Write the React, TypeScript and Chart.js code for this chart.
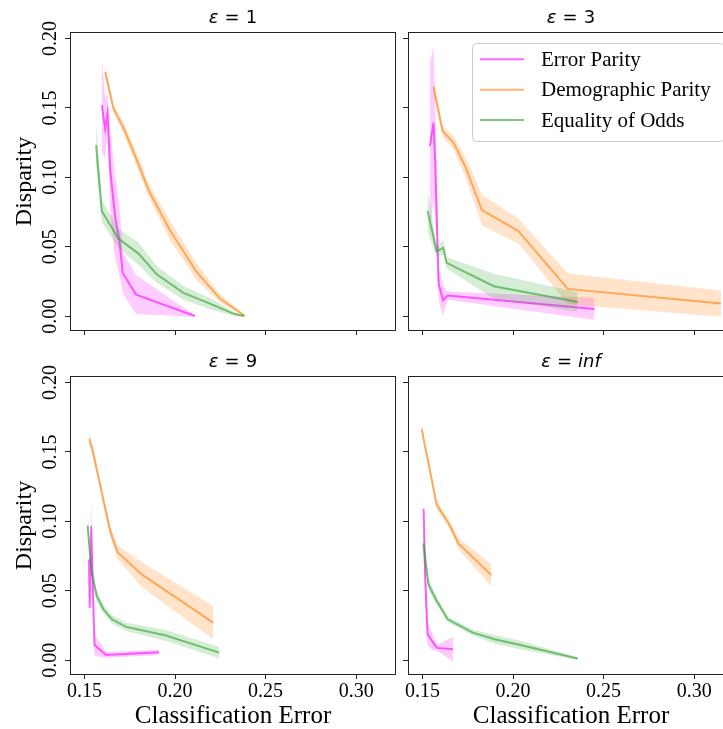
import React, { useEffect, useRef } from 'react';
import { Chart, registerables } from 'chart.js';

Chart.register(...registerables);

// ---------- shared axis data ----------
const X_MIN = 0.142;
const X_MAX = 0.322;
const Y_MIN = -0.0099;
const Y_MAX = 0.2039;
const TICK_STEP = 0.05;
const seriesNames = ['Error Parity', 'Demographic Parity', 'Equality of Odds'];
const panelEps = ['1', '3', '9', 'inf'];
const xAxisLabel = 'Classification Error';
const yAxisLabel = 'Disparity';

// ---------- ε = 1 ----------
const e1EpX = [0.1596, 0.1614, 0.1627, 0.1642, 0.1669, 0.1693, 0.1711, 0.1785, 0.211];
const e1EpY = [0.152, 0.135, 0.146, 0.1052, 0.0715, 0.0547, 0.0312, 0.0156, 0.0002];
const e1EpH = [0.034, 0.022, 0.014, 0.03, 0.03, 0.025, 0.015, 0.014, 0.0005];
const e1DpX = [0.1614, 0.166, 0.1721, 0.1789, 0.1858, 0.1972, 0.2119, 0.2248, 0.2386];
const e1DpY = [0.176, 0.1496, 0.134, 0.1124, 0.0896, 0.0619, 0.0319, 0.0127, 0.0002];
const e1DpH = [0.004, 0.003, 0.004, 0.005, 0.005, 0.007, 0.006, 0.003, 0.0005];
const e1EoX = [0.1564, 0.1596, 0.1687, 0.1798, 0.1899, 0.2046, 0.2193, 0.2322, 0.238];
const e1EoY = [0.1232, 0.0756, 0.0559, 0.0451, 0.0302, 0.0168, 0.0091, 0.0019, 0.0002];
const e1EoH = [0.015, 0.008, 0.007, 0.008, 0.006, 0.005, 0.004, 0.0015, 0.0005];

// ---------- ε = 3 ----------
const e3EpX = [0.1541, 0.1561, 0.157, 0.1589, 0.1613, 0.1639, 0.245];
const e3EpY = [0.1225, 0.1393, 0.1124, 0.0235, 0.0115, 0.0149, 0.0053];
const e3EpH = [0.06, 0.055, 0.04, 0.012, 0.011, 0.003, 0.0078];
const e3DpX = [0.1561, 0.1574, 0.1611, 0.1672, 0.1737, 0.1828, 0.2028, 0.2302, 0.3148];
const e3DpY = [0.1652, 0.1568, 0.1333, 0.1248, 0.1076, 0.0764, 0.0615, 0.0197, 0.0091];
const e3DpH = [0.005, 0.005, 0.004, 0.005, 0.007, 0.011, 0.009, 0.011, 0.0095];
const e3EoX = [0.1528, 0.1578, 0.1615, 0.1633, 0.1894, 0.2357];
const e3EoY = [0.0759, 0.0468, 0.0492, 0.0384, 0.0216, 0.0103];
const e3EoH = [0.015, 0.004, 0.005, 0.004, 0.009, 0.007];

// ---------- ε = 9 ----------
const e9EpX = [0.1524, 0.1529, 0.1537, 0.1555, 0.1619, 0.1912];
const e9EpY = [0.0726, 0.0378, 0.0965, 0.011, 0.0038, 0.0057];
const e9EpH = [0.008, 0.01, 0.02, 0.008, 0.002, 0.002];
const e9DpX = [0.1526, 0.1544, 0.1642, 0.1682, 0.1816, 0.2211];
const e9DpY = [0.1593, 0.1516, 0.0929, 0.0778, 0.0618, 0.0271];
const e9DpH = [0.004, 0.004, 0.004, 0.005, 0.009, 0.012];
const e9EoX = [0.1517, 0.154, 0.1568, 0.1605, 0.1651, 0.173, 0.1945, 0.2244];
const e9EoY = [0.097, 0.063, 0.0462, 0.0366, 0.0295, 0.024, 0.018, 0.0055];
const e9EoH = [0.01, 0.005, 0.004, 0.003, 0.003, 0.003, 0.004, 0.004];

// ---------- ε = inf ----------
const eInfEpX = [0.1506, 0.1515, 0.1528, 0.1556, 0.158, 0.1669];
const eInfEpY = [0.109, 0.0594, 0.0187, 0.0132, 0.0089, 0.0079];
const eInfEpH = [0.009, 0.02, 0.008, 0.006, 0.002, 0.009];
const eInfDpX = [0.1496, 0.1513, 0.1533, 0.1578, 0.1648, 0.1698, 0.188];
const eInfDpY = [0.1665, 0.1545, 0.142, 0.1121, 0.0977, 0.0841, 0.0613];
const eInfDpH = [0.003, 0.003, 0.003, 0.003, 0.003, 0.004, 0.008];
const eInfEoX = [0.1504, 0.1533, 0.1574, 0.1639, 0.1778, 0.1898, 0.2046, 0.2357];
const eInfEoY = [0.0841, 0.0546, 0.0438, 0.0295, 0.0199, 0.0151, 0.0108, 0.0012];
const eInfEoH = [0.012, 0.004, 0.003, 0.002, 0.002, 0.003, 0.003, 0.001];

// ---------- styles ----------
const LINE_COLORS = ['rgba(255,0,255,0.6)', 'rgba(255,127,14,0.6)', 'rgba(44,160,44,0.6)'];
const BAND_COLORS = ['rgba(255,0,255,0.2)', 'rgba(255,127,14,0.22)', 'rgba(44,160,44,0.2)'];
const ORDERS = [2, 1, 0];
const SERIF = '"Liberation Serif", "Times New Roman", Times, serif';
const SANS = '"DejaVu Sans", sans-serif';

type Series = { x: number[]; y: number[]; h: number[] };

const PANELS = [
  {
    eps: panelEps[0], left: 0, top: 0, w: 400, h: 345, showX: false, showY: true, legend: false,
    pad: { left: 0, top: 33, right: 4, bottom: 5 },
    series: [
      { x: e1EpX, y: e1EpY, h: e1EpH }, { x: e1DpX, y: e1DpY, h: e1DpH }, { x: e1EoX, y: e1EoY, h: e1EoH },
    ],
  },
  {
    eps: panelEps[1], left: 400, top: 0, w: 340, h: 345, showX: false, showY: false, legend: true,
    pad: { left: 0, top: 33, right: 6, bottom: 5 },
    series: [
      { x: e3EpX, y: e3EpY, h: e3EpH }, { x: e3DpX, y: e3DpY, h: e3DpH }, { x: e3EoX, y: e3EoY, h: e3EoH },
    ],
  },
  {
    eps: panelEps[2], left: 0, top: 345, w: 400, h: 384, showX: true, showY: true, legend: false,
    pad: { left: 0, top: 32, right: 4, bottom: 0 },
    series: [
      { x: e9EpX, y: e9EpY, h: e9EpH }, { x: e9DpX, y: e9DpY, h: e9DpH }, { x: e9EoX, y: e9EoY, h: e9EoH },
    ],
  },
  {
    eps: panelEps[3], left: 400, top: 345, w: 340, h: 384, showX: true, showY: false, legend: false,
    pad: { left: 0, top: 32, right: 6, bottom: 0 },
    series: [
      { x: eInfEpX, y: eInfEpY, h: eInfEpH }, { x: eInfDpX, y: eInfDpY, h: eInfDpH }, { x: eInfEoX, y: eInfEoY, h: eInfEoH },
    ],
  },
];

function buildDatasets(series: Series[]) {
  const ds: any[] = [];
  series.forEach((s, si) => {
    const lo = s.x.map((x, i) => ({ x, y: s.y[i] - s.h[i] }));
    const hi = s.x.map((x, i) => ({ x, y: s.y[i] + s.h[i] }));
    const mid = s.x.map((x, i) => ({ x, y: s.y[i] }));
    ds.push({ label: seriesNames[si] + ' lo', data: lo, borderWidth: 0, borderColor: 'rgba(0,0,0,0)', pointRadius: 0, fill: false, order: ORDERS[si], tension: 0 });
    ds.push({ label: seriesNames[si] + ' hi', data: hi, borderWidth: 0, borderColor: 'rgba(0,0,0,0)', backgroundColor: BAND_COLORS[si], pointRadius: 0, fill: '-1', order: ORDERS[si], tension: 0 });
    ds.push({ label: seriesNames[si], data: mid, borderWidth: 2, borderColor: LINE_COLORS[si], pointRadius: 0, fill: false, order: ORDERS[si], tension: 0 });
  });
  return ds;
}

const decorPlugin = (eps: string, legend: boolean) => ({
  id: 'decor',
  afterDraw(chart: any) {
    const ctx = chart.ctx as CanvasRenderingContext2D;
    const ca = chart.chartArea;
    ctx.save();
    // frame
    ctx.strokeStyle = '#222';
    ctx.lineWidth = 1;
    const l = Math.round(ca.left) + 0.5, t = Math.round(ca.top) - 0.5;
    const r = Math.round(ca.right) - 0.5, b = Math.round(ca.bottom) + 0.5;
    ctx.strokeRect(l, t, r - l, b - t);

    // title: ε = value
    const fs = 18;
    const italic = `italic ${fs}px ${SANS}`;
    const normal = `${fs}px ${SANS}`;
    const valFont = eps === 'inf' ? italic : normal;
    const gap = 6;
    ctx.font = italic; const wE = ctx.measureText('ε').width;
    ctx.font = normal; const wEq = ctx.measureText('=').width;
    ctx.font = valFont; const wV = ctx.measureText(eps).width;
    const total = wE + gap + wEq + gap + wV;
    let x = (ca.left + ca.right) / 2 - total / 2;
    const ty = ca.top - 14.5;
    ctx.fillStyle = '#000';
    ctx.textBaseline = 'middle';
    ctx.textAlign = 'left';
    ctx.font = italic; ctx.fillText('ε', x, ty); x += wE + gap;
    ctx.font = normal; ctx.fillText('=', x, ty); x += wEq + gap;
    ctx.font = valFont; ctx.fillText(eps, x, ty);

    if (legend) {
      const w = 252, h = 98;
      const lx = ca.right - 10 - w, ly = ca.top + 10;
      ctx.beginPath();
      (ctx as any).roundRect(Math.round(lx) + 0.5, Math.round(ly) + 0.5, w, h, 4);
      ctx.fillStyle = 'rgba(255,255,255,0.8)';
      ctx.fill();
      ctx.strokeStyle = '#cccccc';
      ctx.stroke();
      ctx.font = `21px ${SERIF}`;
      seriesNames.forEach((name, i) => {
        const ry = ly + 16.3 + i * 30.4;
        ctx.strokeStyle = LINE_COLORS[i];
        ctx.lineWidth = 2;
        ctx.beginPath();
        ctx.moveTo(lx + 8, ry);
        ctx.lineTo(lx + 52, ry);
        ctx.stroke();
        ctx.fillStyle = '#000';
        ctx.textBaseline = 'middle';
        ctx.fillText(name, lx + 69, ry + 1);
      });
    }
    ctx.restore();
  },
});

function Panel({ p }: { p: typeof PANELS[number] }) {
  const ref = useRef<HTMLCanvasElement | null>(null);
  useEffect(() => {
    if (!ref.current) return;
    const fmt = (v: any) => Number(v).toFixed(2);
    const chart = new Chart(ref.current, {
      type: 'line',
      data: { datasets: buildDatasets(p.series) },
      plugins: [decorPlugin(p.eps, p.legend)],
      options: {
        animation: false,
        responsive: false,
        devicePixelRatio: 1,
        layout: { padding: p.pad },
        plugins: { legend: { display: false }, tooltip: { enabled: false }, title: { display: false } },
        events: [],
        scales: {
          x: {
            type: 'linear',
            min: X_MIN,
            max: X_MAX,
            afterFit: (s: any) => { s.height = p.showX ? 55 : 10; },
            grid: { drawOnChartArea: false, drawTicks: true, tickLength: 5, color: '#222', lineWidth: 1 },
            border: { display: false },
            ticks: {
              display: p.showX,
              stepSize: TICK_STEP,
              includeBounds: false,
              autoSkip: false,
              minRotation: 0,
              maxRotation: 0,
              padding: 1,
              color: '#000',
              font: { family: SERIF, size: 20 },
              callback: fmt,
            },
            title: {
              display: p.showX,
              text: xAxisLabel,
              color: '#000',
              font: { family: SERIF, size: 25, lineHeight: 1 },
              padding: { top: 0, bottom: 0 },
            },
          },
          y: {
            type: 'linear',
            min: Y_MIN,
            max: Y_MAX,
            afterFit: (s: any) => { s.width = p.showY ? 70 : 8; },
            grid: { drawOnChartArea: false, drawTicks: true, tickLength: 5, color: '#222', lineWidth: 1 },
            border: { display: false },
            ticks: {
              display: p.showY,
              stepSize: TICK_STEP,
              includeBounds: false,
              autoSkip: false,
              minRotation: 90,
              maxRotation: 90,
              crossAlign: 'center',
              padding: -3,
              color: '#000',
              font: { family: SERIF, size: 20 },
              callback: fmt,
            },
            title: {
              display: p.showY,
              text: yAxisLabel,
              color: '#000',
              font: { family: SERIF, size: 24, lineHeight: 1 },
              padding: { top: 13, bottom: 0 },
            },
          },
        },
      } as any,
    });
    return () => chart.destroy();
  }, [p]);
  return (
    <canvas
      ref={ref}
      width={p.w}
      height={p.h}
      style={{ position: 'absolute', left: p.left, top: p.top, width: p.w, height: p.h }}
    />
  );
}

export default function App() {
  return (
    <div style={{ position: 'fixed', left: 0, top: 0, width: 723, height: 729, overflow: 'hidden', background: '#fff' }}>
      {PANELS.map((p, i) => (
        <Panel key={i} p={p} />
      ))}
    </div>
  );
}
